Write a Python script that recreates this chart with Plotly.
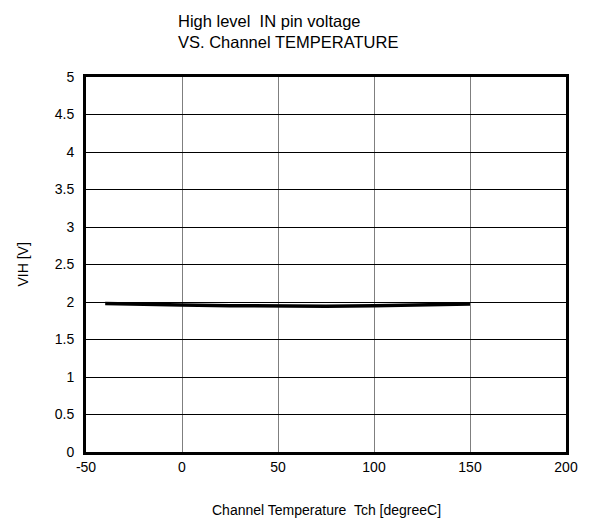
import plotly.graph_objects as go

# ── Data ──────────────────────────────────────────────────────────────────────
temp_c = [-40, -25, 0, 25, 50, 75, 100, 125, 150]
vih_v = [1.98, 1.97, 1.96, 1.95, 1.945, 1.945, 1.95, 1.96, 1.975]

x_ticks = [-50, 0, 50, 100, 150, 200]
y_ticks = [0, 0.5, 1, 1.5, 2, 2.5, 3, 3.5, 4, 4.5, 5]

FONT = "Liberation Sans, Arial, sans-serif"

# plot box in figure pixels (page has an 8px body margin, figure is offset)
W, H = 573, 514
L, R, T, B = 78, 15, 69, 70
PW, PH = W - L - R, H - T - B

fig = go.Figure()
fig.add_trace(go.Scatter(
    x=temp_c, y=vih_v,
    mode="lines",
    line=dict(color="#000000", width=3.5),
    showlegend=False,
))

fig.update_xaxes(
    range=[-50, 200],
    tickvals=x_ticks,
    ticktext=[str(v) for v in x_ticks],
    showgrid=True, gridcolor="#7f7f7f", gridwidth=1,
    showline=True, linecolor="#000000", linewidth=3, mirror=True,
    ticks="", zeroline=False, automargin=False,
    tickfont=dict(size=14, color="#000000"),
)
fig.update_yaxes(
    range=[0, 5],
    tickvals=y_ticks,
    ticktext=[f"{v:g}" for v in y_ticks],
    showgrid=True, gridcolor="#000000", gridwidth=1,
    showline=True, linecolor="#000000", linewidth=3, mirror=True,
    ticks="", zeroline=False, automargin=False, ticklabelstandoff=6,
    tickfont=dict(size=14, color="#000000"),
)

# chart title (two lines, left aligned above the plot)
fig.add_annotation(
    text="High level  IN pin voltage<br>VS. Channel TEMPERATURE",
    xref="paper", yref="paper",
    x=(168 - L) / PW, y=1 + (T - 23.5) / PH,
    xanchor="left", yanchor="middle", align="left",
    showarrow=False,
    font=dict(size=16.5, color="#000000", family=FONT),
)
# axis titles
fig.add_annotation(
    text="Channel Temperature  Tch [degreeC]",
    xref="paper", yref="paper",
    x=0.5, y=-(502 - (T + PH)) / PH,
    xanchor="center", yanchor="middle",
    showarrow=False,
    font=dict(size=14, color="#000000", family=FONT),
)
fig.add_annotation(
    text="VIH [V]",
    xref="paper", yref="paper",
    x=(14 - L) / PW, y=0.5, textangle=-90,
    xanchor="center", yanchor="middle",
    showarrow=False,
    font=dict(size=14, color="#000000", family=FONT),
)

fig.update_layout(
    width=W, height=H,
    margin=dict(l=L, r=R, t=T, b=B),
    plot_bgcolor="#FFFFFF",
    paper_bgcolor="#FFFFFF",
    font=dict(family=FONT, color="#000000"),
)

fig.write_html("out.html")
